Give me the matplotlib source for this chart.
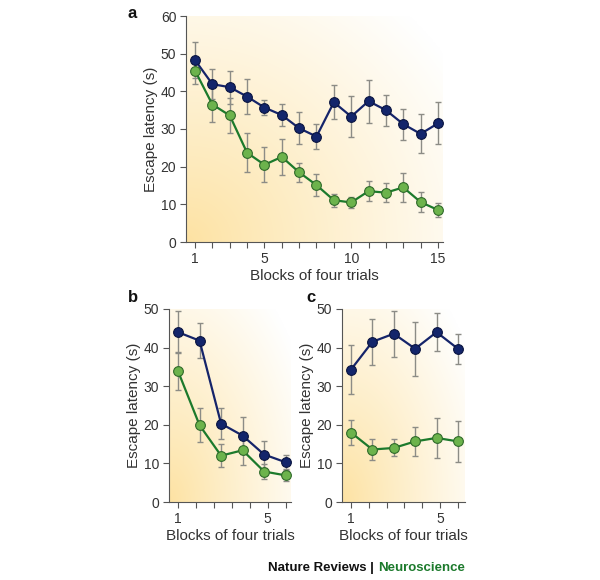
import numpy as np
import matplotlib
matplotlib.use("Agg")
import matplotlib.pyplot as plt
from matplotlib.colors import to_rgb

plt.rcParams["font.family"] = ["Liberation Sans", "DejaVu Sans"]

# ── data ──────────────────────────────────────────────────────────
blocks_a = list(range(1, 16))
blue_a = [48.3, 41.9, 41.1, 38.6, 35.7, 33.7, 30.2, 28.0, 37.1, 33.3, 37.4, 35.0, 31.3, 28.7, 31.5]
blue_a_err = [4.8, 3.9, 4.4, 4.6, 2.0, 3.0, 4.3, 3.4, 4.5, 5.4, 5.7, 4.1, 4.1, 5.2, 5.6]
green_a = [45.5, 36.5, 33.6, 23.7, 20.5, 22.6, 18.5, 15.1, 11.1, 10.5, 13.5, 13.1, 14.5, 10.6, 8.5]
green_a_err = [3.6, 4.6, 4.7, 5.2, 4.6, 4.7, 2.6, 3.0, 1.7, 1.4, 2.7, 2.5, 3.9, 2.7, 1.8]

blocks_bc = list(range(1, 7))
blue_b = [44.0, 41.8, 20.3, 17.2, 12.3, 10.3]
blue_b_err = [5.4, 4.5, 4.1, 4.7, 3.5, 1.8]
green_b = [33.9, 19.9, 12.0, 13.4, 7.9, 6.9]
green_b_err = [5.0, 4.4, 2.9, 3.9, 1.9, 1.5]

blue_c = [34.3, 41.5, 43.6, 39.7, 44.0, 39.7]
blue_c_err = [6.3, 5.9, 6.0, 7.0, 4.9, 3.9]
green_c = [18.0, 13.6, 14.0, 15.7, 16.6, 15.7]
green_c_err = [3.2, 2.8, 2.2, 3.7, 5.2, 5.4]

NAVY_LINE, NAVY_FILL, NAVY_EDGE = "#15246a", "#13256b", "#0a1440"
GREEN_LINE, GREEN_FILL, GREEN_EDGE = "#1c7a2c", "#6cb34c", "#2f6a2a"
ERR = "#8c8c86"
TXT = "#333333"


def gradient_bg(ax):
    # warm yellow in the bottom-left corner fading to white at top-right
    n = 200
    xx, yy = np.meshgrid(np.linspace(0, 1, n), np.linspace(0, 1, n))
    t = np.clip(np.sqrt((xx * 1.0) ** 2 + (yy * 0.9) ** 2) / 1.25, 0, 1) ** 0.9
    base = np.array(to_rgb("#fde2a2"))
    img = base[None, None, :] * (1 - t[..., None]) + np.ones(3)[None, None, :] * t[..., None]
    ax.imshow(img, extent=(0, 1, 0, 1), origin="lower", transform=ax.transAxes,
              aspect="auto", zorder=0, interpolation="bilinear")


def series(ax, x, y, err, line, fill, edge):
    ax.errorbar(x, y, yerr=err, fmt="none", ecolor=ERR, elinewidth=1.0,
                capsize=2, capthick=1.0, zorder=2)
    ax.plot(x, y, color=line, lw=1.6, zorder=3)
    ax.plot(x, y, "o", ms=7, mfc=fill, mec=edge, mew=0.8, zorder=4)


def style(ax, xlim, ylim, yticks):
    gradient_bg(ax)
    ax.set_xlim(*xlim)
    ax.set_ylim(*ylim)
    ax.set_yticks(yticks)
    for s in ("top", "right"):
        ax.spines[s].set_visible(False)
    for s in ("left", "bottom"):
        ax.spines[s].set_color("#555555")
        ax.spines[s].set_linewidth(0.8)
    ax.tick_params(direction="out", length=4, width=0.8, color="#555555",
                   labelcolor=TXT, labelsize=10, pad=3)
    ax.set_ylabel("Escape latency (s)", fontsize=11, color=TXT, labelpad=2)
    ax.set_xlabel("Blocks of four trials", fontsize=11, color=TXT, labelpad=2)


fig = plt.figure(figsize=(6.0, 5.8), dpi=100)

# ── panel a ───────────────────────────────────────────────────────
ax_a = fig.add_axes([186 / 600, 1 - 242 / 580, 257 / 600, 226 / 580])
style(ax_a, (0.48, 15.29), (0, 60), range(0, 61, 10))
ax_a.set_xticks(blocks_a)
ax_a.set_xticklabels([str(b) if b in (1, 5, 10, 15) else "" for b in blocks_a])
series(ax_a, blocks_a, blue_a, blue_a_err, NAVY_LINE, NAVY_FILL, NAVY_EDGE)
series(ax_a, blocks_a, green_a, green_a_err, GREEN_LINE, GREEN_FILL, GREEN_EDGE)

# ── panels b and c: 7 tick marks across the 6 blocks ──────────────
bc_ticks = np.linspace(1, 6, 7)
bc_labels = ["1", "", "", "", "", "5", ""]

ax_b = fig.add_axes([169 / 600, 1 - 502 / 580, 122 / 600, 193 / 580])
style(ax_b, (0.58, 6.25), (0, 50), range(0, 51, 10))
ax_b.set_xticks(bc_ticks)
ax_b.set_xticklabels(bc_labels)
series(ax_b, blocks_bc, blue_b, blue_b_err, NAVY_LINE, NAVY_FILL, NAVY_EDGE)
series(ax_b, blocks_bc, green_b, green_b_err, GREEN_LINE, GREEN_FILL, GREEN_EDGE)

ax_c = fig.add_axes([342 / 600, 1 - 502 / 580, 123 / 600, 193 / 580])
style(ax_c, (0.58, 6.33), (0, 50), range(0, 51, 10))
ax_c.set_xticks(bc_ticks)
ax_c.set_xticklabels(bc_labels)
series(ax_c, blocks_bc, blue_c, blue_c_err, NAVY_LINE, NAVY_FILL, NAVY_EDGE)
series(ax_c, blocks_bc, green_c, green_c_err, GREEN_LINE, GREEN_FILL, GREEN_EDGE)

# panel letters
for lbl, (px, py) in {"a": (128, 14), "b": (128, 298), "c": (306, 298)}.items():
    fig.text(px / 600, 1 - py / 580, lbl, fontsize=12, fontweight="bold",
             ha="left", va="center", color="#111111")

# footer
fig.text(378 / 600, 1 - 568 / 580, "Nature Reviews | ", fontsize=9.5,
         fontweight="bold", ha="right", va="center", color="#111111")
fig.text(378 / 600, 1 - 568 / 580, "Neuroscience", fontsize=9.5,
         fontweight="bold", ha="left", va="center", color="#1c7a2c")

fig.savefig("out.png", dpi=100, facecolor="white")
